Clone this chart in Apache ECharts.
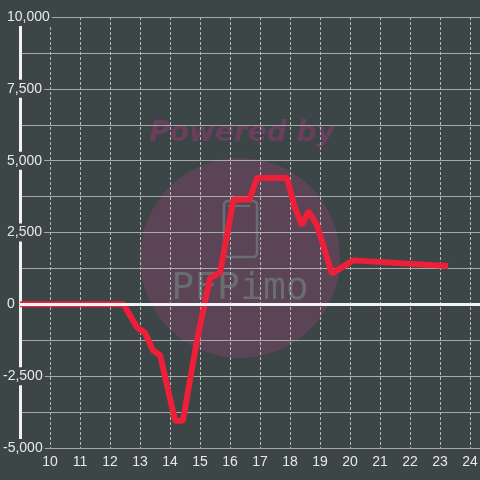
<!DOCTYPE html>
<html>
<head>
<meta charset="utf-8">
<script src="https://cdn.jsdelivr.net/npm/echarts@6/dist/echarts.min.js"></script>
<style>
  html, body { margin: 0; padding: 0; background: #3c4646; }
  #chart { width: 480px; height: 480px; }
</style>
</head>
<body>
<div id="chart"></div>
<script>
// line points
const xValues = [9, 12.3, 12.45, 12.9, 13.17, 13.43, 13.67, 14.17, 14.43, 14.9, 15.33, 15.67, 16.12, 16.65, 16.9, 17.9, 18.15, 18.4, 18.62, 18.9, 19.4, 20.1, 23.27];
const yValues = [0, 0, 0, -800, -1000, -1600, -1770, -4050, -4050, -1250, 900, 1100, 3650, 3650, 4400, 4400, 3400, 2750, 3250, 2750, 1070, 1530, 1330];
const yTicks = [-5000, -2500, 0, 2500, 5000, 7500, 10000];
const xRange = [9, 24.333];

const bg = '#3c4646';
const labelColor = '#e8e8e8';

const chart = echarts.init(document.getElementById('chart'));

const option = {
  backgroundColor: bg,
  animation: false,
  textStyle: { fontFamily: 'Liberation Sans' },
  grid: { left: 20, right: 0, top: 17, bottom: 32, outerBoundsMode: 'none' },
  xAxis: {
    type: 'value',
    min: xRange[0],
    max: xRange[1],
    interval: 1,
    axisLine: { show: true, lineStyle: { color: '#a8a8a8', width: 1 } },
    axisTick: { show: false },
    axisLabel: {
      color: labelColor,
      fontSize: 14,
      margin: 7,
      showMinLabel: false,
      showMaxLabel: false
    },
    splitLine: { show: true, lineStyle: { color: '#b8b8b8', type: [3, 2], width: 1 } }
  },
  yAxis: {
    type: 'value',
    min: yTicks[0],
    max: yTicks[yTicks.length - 1],
    interval: 2500,
    axisLine: { show: true, lineStyle: { color: '#f2f2f2', width: 3 } },
    axisTick: { show: false },
    axisLabel: {
      color: labelColor,
      fontSize: 14,
      align: 'left',
      margin: 17,
      backgroundColor: bg,
      padding: [2, 2, 2, 0],
      formatter: v => (v < 0 ? '{n|' : '{p|') + v.toLocaleString('en-US') + '}',
      rich: {
        n: { color: labelColor, fontSize: 14 },
        p: { color: labelColor, fontSize: 14, padding: [0, 0, 0, 4] }
      }
    },
    splitLine: { show: true, lineStyle: { color: '#a8a8a8', width: 1 } },
    minorTick: { show: false, splitNumber: 2 },
    minorSplitLine: { show: true, lineStyle: { color: '#a8a8a8', width: 1 } }
  },
  graphic: [
    {
      type: 'circle',
      z: -10,
      shape: { cx: 240, cy: 258, r: 100 },
      style: { fill: 'rgba(163,66,122,0.3)' }
    },
    {
      type: 'text',
      z: -10,
      x: 242, y: 134,
      style: {
        text: 'Powered by',
        font: 'italic bold 28px "DejaVu Sans"',
        fill: 'rgba(150,55,115,0.5)',
        align: 'center',
        verticalAlign: 'middle'
      }
    },
    {
      type: 'rect',
      z: -9,
      shape: { x: 224, y: 201, width: 33, height: 56, r: 4 },
      style: { fill: 'none', stroke: '#6a6d70', lineWidth: 2.5 }
    },
    {
      type: 'line',
      z: -9,
      shape: { x1: 228, y1: 206, x2: 250, y2: 206 },
      style: { stroke: '#6a6d70', lineWidth: 2 }
    },
    {
      type: 'text',
      z: -9,
      x: 240, y: 289,
      style: {
        text: 'PFPimo',
        font: '38px "DejaVu Sans Mono"',
        fill: '#6a6d70',
        align: 'center',
        verticalAlign: 'middle'
      }
    }
  ],
  series: [
    {
      name: 'zero',
      type: 'line',
      z: 1,
      data: [],
      markLine: {
        silent: true,
        symbol: 'none',
        label: { show: false },
        lineStyle: { color: '#f4f4f4', width: 3, type: 'solid' },
        data: [{ yAxis: 0 }]
      }
    },
    {
      name: 'value',
      type: 'line',
      z: 3,
      data: xValues.map((x, i) => [x, yValues[i]]),
      showSymbol: false,
      lineStyle: { color: '#ee1f38', width: 6 }
    }
  ]
};

chart.setOption(option);
</script>
</body>
</html>
